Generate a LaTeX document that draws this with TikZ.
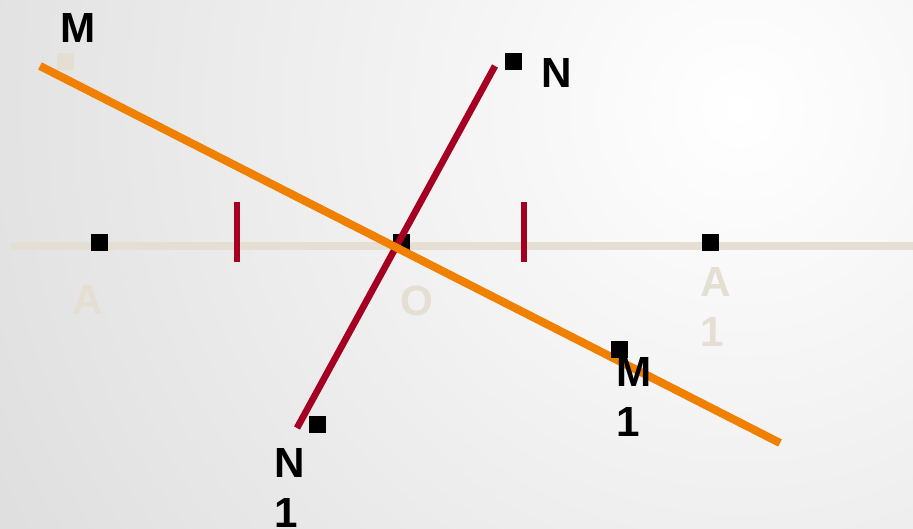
\documentclass[tikz,border=0pt]{standalone}
\usepackage{fontspec}
\setmainfont{Liberation Sans}
\usepackage{xcolor}
\usepackage{tikz}
\usetikzlibrary{positioning}

\definecolor{axisbeige}{HTML}{E5DFD3}
\definecolor{lineorange}{HTML}{F08000}
\definecolor{linered}{HTML}{A50021}

\begin{document}
\begin{tikzpicture}[
    pt/.style={fill=black, minimum size=0.17cm, inner sep=0pt, outer sep=0pt},
    ptlight/.style={pt, fill=axisbeige},
    lbl/.style={font=\fontsize{12}{14.2}\selectfont\bfseries, inner sep=0pt, align=left},
    lbllight/.style={lbl, text=axisbeige},
    tick/.style={linered, line width=1.6pt}
  ]
  \useasboundingbox (0,0) rectangle (9.13,5.29);

  % ── Background ──
  \begin{scope}
    \clip (0,0) rectangle (9.13,5.29);
    \shade[inner color=white, outer color=black!27] (7.4,4.2) circle (18);
  \end{scope}

  % ── Axis with the points A, O, A1 ──
  \coordinate (axL) at (0.10,2.83);
  \coordinate (axR) at (9.20,2.83);
  \draw[axisbeige, line width=2.3pt] (axL) -- (axR);
  \draw[tick] (2.37,3.27) -- (2.37,2.67);
  \draw[tick] (5.24,3.27) -- (5.24,2.67);
  \node[pt] (O) at (4.01,2.86) {};

  % ── The two lines ──
  \coordinate (nEnd) at (4.95,4.63);
  \coordinate (n1End) at (2.97,1.01);
  \coordinate (mEnd) at (0.40,4.63);
  \coordinate (m1End) at (7.80,0.86);
  \draw[linered, line width=1.9pt] (n1End) -- (nEnd);
  \draw[lineorange, line width=2.3pt] (mEnd) -- (m1End);

  % ── Points ──
  \node[pt] (A) at (0.99,2.86) {};
  \node[pt] (A1) at (7.10,2.86) {};
  \node[pt] (N) at (5.13,4.67) {};
  \node[pt] (N1) at (3.17,1.04) {};
  \node[pt] (M1) at (6.19,1.79) {};
  \node[ptlight] (M) at (0.65,4.67) {};

  % ── Labels ──
  \node[lbl, anchor=north] (Mlbl) at (0.78,5.16) {M};
  \node[lbl, anchor=north] (Nlbl) at (5.57,4.71) {N};
  \node[lbl, anchor=north west] (N1lbl) at (2.74,0.81) {N\\1};
  \node[lbl, anchor=north west] (M1lbl) at (6.16,1.72) {M\\1};
  \node[lbllight, anchor=north west] (A1lbl) at (7.00,2.62) {A\\1};
  \node[lbllight, anchor=north] (Albl) at (0.88,2.44) {A};
  \node[lbllight, anchor=north] (Olbl) at (4.17,2.44) {O};
\end{tikzpicture}
\end{document}
